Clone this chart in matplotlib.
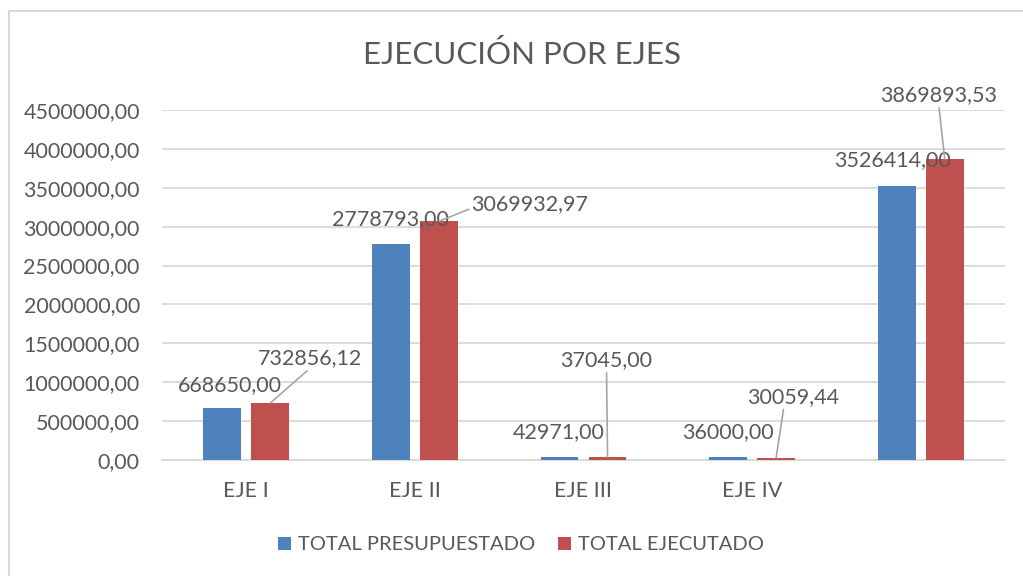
import matplotlib
matplotlib.use("Agg")
from matplotlib import pyplot as plt
from matplotlib.lines import Line2D
from matplotlib.ticker import FuncFormatter
import numpy as np

plt.rcParams['font.family'] = ['Lato', 'DejaVu Sans']

# --- data ---
categories = ['EJE I', 'EJE II', 'EJE III', 'EJE IV', '']
presupuestado = [668650.00, 2778793.00, 42971.00, 36000.00, 3526414.00]
ejecutado = [732856.12, 3069932.97, 37045.00, 30059.44, 3869893.53]
y_ticks = [0, 500000, 1000000, 1500000, 2000000, 2500000, 3000000, 3500000, 4000000, 4500000]

# label offsets in pixels from the top of each bar (Excel moved them by hand)
blue_off = [(8, 23), (0, 25), (-1, 25), (0, 25), (-4, 26)]
red_off = [(40, 45), (91, 17), (-1, 97), (17, 61), (-6, 64)]
red_relpos = [(0.5, 0), (0, 0.3), (0.5, 0), (0.4, 0), (0.5, 0)]

BLUE = '#4F81BD'
RED = '#C0504D'
TXT = '#595959'
GRID = '#D9D9D9'


def fmt(v):
    return f"{v:.2f}".replace('.', ',')


fig = plt.figure(figsize=(10.23, 5.76), dpi=100)
ax = fig.add_axes([162 / 1023, 1 - 460 / 576, (1005 - 162) / 1023, 350 / 576])

x = np.arange(len(categories))
w = 0.225
off = 0.1425
ax.bar(x - off, presupuestado, w, color=BLUE, label='TOTAL PRESUPUESTADO', zorder=3)
ax.bar(x + off, ejecutado, w, color=RED, label='TOTAL EJECUTADO', zorder=3)

for i in range(len(categories)):
    ax.annotate(fmt(presupuestado[i]), xy=(x[i] - off, presupuestado[i]),
                xytext=blue_off[i], textcoords='offset pixels',
                ha='center', va='center', fontsize=15.5, color=TXT, zorder=5)
    ax.annotate(fmt(ejecutado[i]), xy=(x[i] + off, ejecutado[i]),
                xytext=red_off[i], textcoords='offset pixels',
                ha='center', va='center', fontsize=15.5, color=TXT, zorder=5,
                arrowprops=dict(arrowstyle='-', color='#A6A6A6', lw=1.2,
                                shrinkA=0, shrinkB=0, relpos=red_relpos[i]))

ax.set_xlim(-0.5, len(categories) - 0.5)
ax.set_ylim(0, 4500000)
ax.set_yticks(y_ticks)
ax.yaxis.set_major_formatter(FuncFormatter(lambda v, p: fmt(v)))
ax.set_xticks(x)
ax.set_xticklabels(categories)
ax.tick_params(axis='both', length=0, labelsize=15.5, colors=TXT)
ax.tick_params(axis='y', pad=16)
ax.tick_params(axis='x', pad=15)
ax.grid(axis='y', color=GRID, lw=1.3, zorder=0)
for s in ['top', 'right', 'left']:
    ax.spines[s].set_visible(False)
ax.spines['bottom'].set_color(GRID)
ax.spines['bottom'].set_linewidth(1.3)

fig.text(522 / 1023, 1 - 55 / 576, 'EJECUCIÓN POR EJES', ha='center', va='center',
         fontsize=22.5, color=TXT)

fig.legend(loc='center', bbox_to_anchor=(521 / 1023, 1 - 545 / 576), ncol=2,
           frameon=False, fontsize=14.5, labelcolor=TXT, handlelength=0.65,
           handleheight=0.65, handletextpad=0.35, columnspacing=1.1)

# outer chart border (only left and top edges fall inside the picture)
bx, by = 8.5 / 1023, 1 - 11 / 576
fig.add_artist(Line2D([bx, bx], [0, by], transform=fig.transFigure, color=GRID, lw=1.5))
fig.add_artist(Line2D([bx, 1], [by, by], transform=fig.transFigure, color=GRID, lw=1.5))

fig.savefig('out.png', dpi=100)
